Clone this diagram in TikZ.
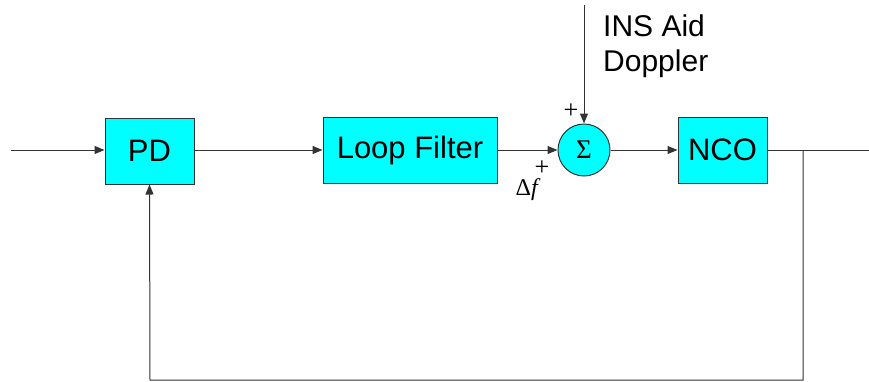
\documentclass[tikz,border=0pt]{standalone}
\usepackage{fontspec}
\setmainfont{Liberation Sans}
\newfontfamily\serifff{Liberation Serif}
\usetikzlibrary{arrows.meta}
\definecolor{boxcyan}{RGB}{0,255,255}
\begin{document}
\begin{tikzpicture}[x=1pt,y=-1pt,
  blk/.style={draw=black!80, fill=boxcyan, line width=1pt, minimum height=66pt, inner sep=0pt, font=\fontsize{31}{35}\selectfont},
  sumc/.style={draw=black!80, fill=boxcyan, circle, line width=1pt, minimum size=52pt, inner sep=0pt},
  wire/.style={line width=1pt, draw=black!80},
  arr/.style={wire, -{Triangle[length=10pt,width=8pt]}},
  lbl/.style={font=\fontsize{30}{35}\selectfont, align=left, inner sep=0pt},
  sym/.style={font=\serifff\fontsize{26}{26}\selectfont, inner sep=0pt}]
\useasboundingbox (0,0) rectangle (869,381);
\node[blk, minimum width=89pt] (pd) at (149.5,151) {PD};
\node[blk, minimum width=174pt] (lf) at (410,150) {Loop Filter};
\node[sumc] (sum) at (584,150) {\serifff\fontsize{27}{27}\selectfont Σ};
\node[blk, minimum width=89pt] (nco) at (722.5,150) {NCO};
\coordinate (in) at (11,150);
\coordinate (out) at (869,150);
\coordinate (br) at (803,150);
\coordinate (bl) at (803,380);
\coordinate (bp) at (150,380);
\coordinate (top) at (584,5);
\draw[arr] (in) -- (in -| pd.west);
\draw[arr] (pd.east |- 0,150) -- (lf.west);
\draw[arr] (lf.east) -- (sum.west);
\draw[arr] (sum.east) -- (nco.west);
\draw[wire] (nco.east) -- (out);
\draw[arr] (br) -- (bl) -- (bp) -- (pd.south);
\draw[arr] (top) -- (sum.north);
\node[lbl, anchor=north west] (ins) at (603,15) {INS Aid\\Doppler};
\node[sym] (p1) at (571,111) {+};
\node[sym] (p2) at (542,168) {+};
\node[sym, anchor=base east, font=\serifff\fontsize{24}{24}\selectfont] (df) at (538,195) {Δ\itshape f};
\end{tikzpicture}
\end{document}
